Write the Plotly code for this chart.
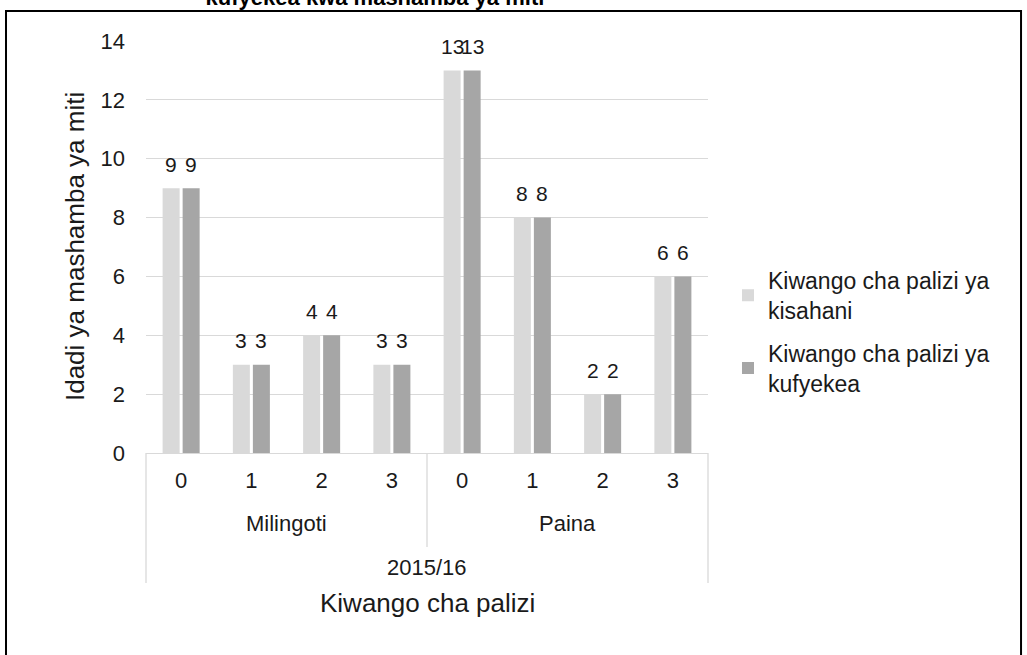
import plotly.graph_objects as go

# data
groups = ["Milingoti", "Milingoti", "Milingoti", "Milingoti", "Paina", "Paina", "Paina", "Paina"]
levels = ["0", "1", "2", "3", "0", "1", "2", "3"]
season = "2015/16"
kisahani = [9, 3, 4, 3, 13, 8, 2, 6]
kufyekea = [9, 3, 4, 3, 13, 8, 2, 6]

series = [
    ("Kiwango cha palizi ya<br>kisahani", kisahani, "#d9d9d9", -10),
    ("Kiwango cha palizi ya<br>kufyekea", kufyekea, "#a6a6a6", 10),
]

FONT = "Liberation Sans, Arial, sans-serif"
TEXT = "#1a1a1a"
LINE = "#d9d9d9"

keys = [f"{g}|{l}" for g, l in zip(groups, levels)]

fig = go.Figure()
for i, (name, vals, color, _) in enumerate(series):
    fig.add_trace(go.Bar(
        name=name, x=keys, y=vals, marker_color=color, marker_line_width=0,
        legendgroup=f"g{i}",
    ))

# data labels above the bars
for name, vals, color, dx in series:
    for k, v in zip(keys, vals):
        fig.add_annotation(x=k, y=v, text=str(v), showarrow=False, xshift=dx, yshift=24,
                           font=dict(size=21, color=TEXT))

# group labels under the axis
uniq = list(dict.fromkeys(groups))
for g in uniq:
    idx = [i for i, gg in enumerate(groups) if gg == g]
    mid = (idx[0] + idx[-1]) / 2
    fig.add_annotation(x=mid, xref="x", y=-0.170, yref="paper", text=g, showarrow=False,
                       yanchor="middle", font=dict(size=22, color=TEXT))

fig.add_annotation(x=(len(keys) - 1) / 2, xref="x", y=-0.2767, yref="paper", text=season,
                   showarrow=False, yanchor="middle", font=dict(size=22, color=TEXT))
fig.add_annotation(x=(len(keys) - 1) / 2, xref="x", y=-0.364, yref="paper", text="Kiwango cha palizi",
                   showarrow=False, yanchor="middle", font=dict(size=26, color=TEXT))
fig.add_annotation(x=-0.1263, xref="paper", y=0.5, yref="paper", text="Idadi ya mashamba ya miti",
                   textangle=-90, showarrow=False, xanchor="center", yanchor="middle",
                   font=dict(size=26, color=TEXT))
# title (cut off at top in the original)
fig.add_annotation(x=0.409, xref="paper", y=1.07, yref="paper",
                   text="<b>Kiwango cha palizi ya kisahani na ya</b><br><b>kufyekea kwa mashamba ya miti</b>",
                   showarrow=False, yanchor="bottom", font=dict(size=22, color="#000000"))

# category box lines
fig.add_shape(type="line", xref="paper", yref="paper", x0=0, x1=0, y0=0, y1=-0.3155,
              line=dict(color=LINE, width=1.3))
fig.add_shape(type="line", xref="paper", yref="paper", x0=1, x1=1, y0=0, y1=-0.3155,
              line=dict(color=LINE, width=1.3))
fig.add_shape(type="line", xref="x", yref="paper", x0=3.5, x1=3.5, y0=0, y1=-0.228,
              line=dict(color=LINE, width=1.3))

# outer frame
fig.add_shape(type="rect", xref="paper", yref="paper", x0=-0.2491, x1=1.557, y0=-0.6, y1=1.0728,
              line=dict(color="#000000", width=2), layer="below")

fig.update_layout(
    width=1027, height=655,
    margin=dict(l=146, r=319, t=41, b=202),
    template="plotly_white",
    plot_bgcolor="#ffffff", paper_bgcolor="#ffffff",
    font=dict(family=FONT, size=22, color=TEXT),
    barmode="group", bargap=0.43, bargroupgap=0.15,
    showlegend=True,
    legend=dict(x=1.0356, xanchor="left", y=0.294, yanchor="middle",
                font=dict(size=23, color=TEXT), itemwidth=30, tracegroupgap=10,
                traceorder="grouped"),
)
fig.update_xaxes(type="category", tickvals=keys, ticktext=levels, showline=True, linecolor=LINE,
                 linewidth=1.3, showgrid=False, ticks="", ticklabelstandoff=7,
                 tickfont=dict(size=22, color=TEXT))
fig.update_yaxes(range=[0, 14], dtick=2, gridcolor=LINE, gridwidth=1.3, zeroline=False,
                 showline=False, ticks="", ticklabelstandoff=20, tickfont=dict(size=22, color=TEXT))

# drop the page's default body margin so the figure starts at the window corner
fig.write_html("out.html", config={"displayModeBar": False},
               post_script="document.body.style.margin='0';")
